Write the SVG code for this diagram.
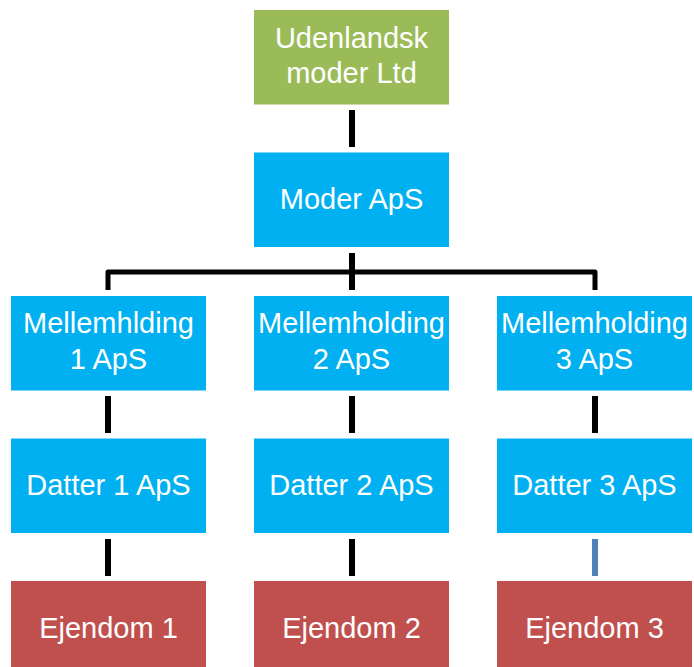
<svg xmlns="http://www.w3.org/2000/svg" width="694" height="667" viewBox="0 0 694 667">
<style>
.g{fill:#9bbb59}.b{fill:#00b0f0}.r{fill:#c0504d}
text{font-family:"Liberation Sans",Arial,sans-serif;font-size:29px;fill:#fff;text-anchor:middle}
.c{stroke:#000;stroke-width:6;fill:none}
.h{stroke:#000;stroke-width:5;fill:none;stroke-linejoin:round}
</style>
<rect width="694" height="667" fill="#fff"/>
<g id="connectors">
<line class="c" x1="352" y1="110" x2="352" y2="147"/>
<line class="c" x1="352" y1="253" x2="352" y2="290"/>
<path class="h" d="M108 290 V272 H595 V290"/>
<line class="c" x1="108" y1="396" x2="108" y2="433"/>
<line class="c" x1="352" y1="396" x2="352" y2="433"/>
<line class="c" x1="595" y1="396" x2="595" y2="433"/>
<line class="c" x1="108" y1="539" x2="108" y2="576"/>
<line class="c" x1="352" y1="539" x2="352" y2="576"/>
<line class="c" x1="595" y1="539" x2="595" y2="576" style="stroke:#4f81bd"/>
</g>
<g id="udenlandsk"><rect class="g" x="254" y="10" width="195" height="94.5"/><text x="351.5" y="48">Udenlandsk</text><text x="351.5" y="83">moder Ltd</text></g>
<g id="moder"><rect class="b" x="254" y="152.5" width="195" height="94.5"/><text x="351.5" y="209">Moder ApS</text></g>
<g id="mellem1"><rect class="b" x="11" y="296" width="195" height="94.5"/><text x="108.5" y="333">Mellemhlding</text><text x="108.5" y="369">1 ApS</text></g>
<g id="mellem2"><rect class="b" x="254" y="296" width="195" height="94.5"/><text x="351.5" y="333">Mellemholding</text><text x="351.5" y="369">2 ApS</text></g>
<g id="mellem3"><rect class="b" x="497" y="296" width="195" height="94.5"/><text x="594.5" y="333">Mellemholding</text><text x="594.5" y="369">3 ApS</text></g>
<g id="datter1"><rect class="b" x="11" y="438.5" width="195" height="94.5"/><text x="108.5" y="495">Datter 1 ApS</text></g>
<g id="datter2"><rect class="b" x="254" y="438.5" width="195" height="94.5"/><text x="351.5" y="495">Datter 2 ApS</text></g>
<g id="datter3"><rect class="b" x="497" y="438.5" width="195" height="94.5"/><text x="594.5" y="495">Datter 3 ApS</text></g>
<g id="ejendom1"><rect class="r" x="11" y="581" width="195" height="94.5"/><text x="108.5" y="638">Ejendom 1</text></g>
<g id="ejendom2"><rect class="r" x="254" y="581" width="195" height="94.5"/><text x="351.5" y="638">Ejendom 2</text></g>
<g id="ejendom3"><rect class="r" x="497" y="581" width="195" height="94.5"/><text x="594.5" y="638">Ejendom 3</text></g>
</svg>
